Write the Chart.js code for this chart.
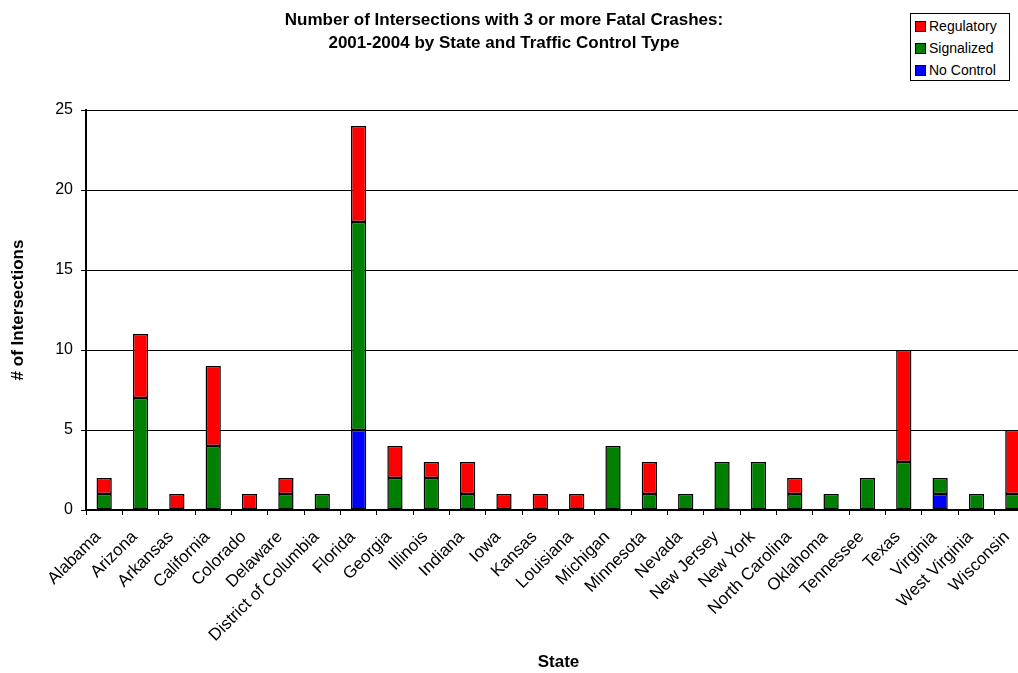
<!DOCTYPE html>
<html>
<head>
<meta charset="utf-8">
<script src="https://cdn.jsdelivr.net/npm/chart.js@4.4.1/dist/chart.umd.min.js"></script>
<style>
  html, body { margin: 0; padding: 0; background: #fff; overflow: hidden; }
  #wrap { position: relative; width: 1018px; height: 673px; overflow: hidden; }
  #cv { position: absolute; left: 0; top: 0; }
  #title { position: absolute; left: 0; top: 8px; width: 1008px; text-align: center;
           font: bold 17px "Liberation Sans", Arial, sans-serif; line-height: 23px; color: #000; }
  #legend { position: absolute; left: 910px; top: 13px; width: 98px; height: 66px;
            border: 1px solid #000; background: #fff; font: 14px "Liberation Sans", Arial, sans-serif; color: #000; }
  .li { position: absolute; left: 4px; height: 20px; line-height: 20px; white-space: nowrap; }
  .sw { display: inline-block; width: 9px; height: 9px; border: 1px solid #000; margin-right: 3px; vertical-align: -1px; }
</style>
</head>
<body>
<div id="wrap">
  <canvas id="cv" width="1032" height="673"></canvas>
  <div id="title">Number of Intersections with 3 or more Fatal Crashes:<br>2001-2004 by State and Traffic Control Type</div>
  <div id="legend"></div>
</div>
<script>
const states = ["Alabama","Arizona","Arkansas","California","Colorado","Delaware","District of Columbia","Florida","Georgia","Illinois","Indiana","Iowa","Kansas","Louisiana","Michigan","Minnesota","Nevada","New Jersey","New York","North Carolina","Oklahoma","Tennessee","Texas","Virginia","West Virginia","Wisconsin"];
const noControl  = [0,0,0,0,0,0,0,5,0,0,0,0,0,0,0,0,0,0,0,0,0,0,0,1,0,0];
const signalized = [1,7,0,4,0,1,1,13,2,2,1,0,0,0,4,1,1,3,3,1,1,2,3,1,1,1];
const regulatory = [1,4,1,5,1,1,0,6,2,1,2,1,1,1,0,2,0,0,0,1,0,0,7,0,0,4];
const yTicks = [0,5,10,15,20,25];

const seriesNames = ["No Control","Signalized","Regulatory"];
const seriesColors = ["#0000FF","#008000","#FF0000"];
const seriesData = [noControl, signalized, regulatory];

const datasets = seriesData.map((arr, i) => ({
  label: seriesNames[i],
  data: arr.map(v => v === 0 ? null : v),
  backgroundColor: seriesColors[i],
  borderColor: "#000",
  borderWidth: 1.5,
  borderSkipped: false,
  barPercentage: 0.42,
  categoryPercentage: 1.0
}));

// HTML legend (reverse order, like the reference)
const leg = document.getElementById("legend");
[2,1,0].forEach((i, k) => {
  const d = document.createElement("div");
  d.className = "li";
  d.style.top = (2 + k * 22) + "px";
  d.innerHTML = '<span class="sw" style="background:' + seriesColors[i] + '"></span>' + seriesNames[i];
  leg.appendChild(d);
});

const FONT = "'Liberation Sans', Arial, sans-serif";

new Chart(document.getElementById("cv"), {
  type: "bar",
  data: { labels: states, datasets: datasets },
  options: {
    responsive: false,
    animation: false,
    events: [],
    layout: { padding: { top: 110, left: 0, right: 1, bottom: 0 } },
    plugins: { legend: { display: false }, title: { display: false }, tooltip: { enabled: false } },
    scales: {
      x: {
        stacked: true,
        afterFit: s => { s.height = 163; s.paddingLeft = 0; s.paddingRight = 0; },
        grid: { display: true, drawOnChartArea: false, drawTicks: true, tickLength: 5, color: "#000", offset: true },
        border: { display: true, color: "#000", width: 2 },
        ticks: { color: "#000", font: { family: FONT, size: 17 }, maxRotation: 45, minRotation: 45, autoSkip: false, padding: 12, labelOffset: -6 },
        title: { display: true, text: "State", color: "#000", font: { family: FONT, size: 17, weight: "bold", lineHeight: 1.2 }, padding: { top: 0, bottom: 0 } }
      },
      y: {
        stacked: true,
        min: 0, max: 25,
        afterFit: s => { s.width = 86; s.paddingTop = 0; s.paddingBottom = 0; },
        afterBuildTicks: s => { s.ticks = yTicks.map(v => ({ value: v })); },
        grid: { color: "#000", lineWidth: 1, drawTicks: true, tickLength: 5 },
        border: { display: true, color: "#000", width: 2 },
        ticks: { color: "#000", font: { family: FONT, size: 16 }, padding: 8 },
        title: { display: true, text: "# of Intersections", color: "#000", font: { family: FONT, size: 17, weight: "bold", lineHeight: 1.2 }, padding: { top: 8, bottom: 0 } }
      }
    }
  }
});
</script>
</body>
</html>
